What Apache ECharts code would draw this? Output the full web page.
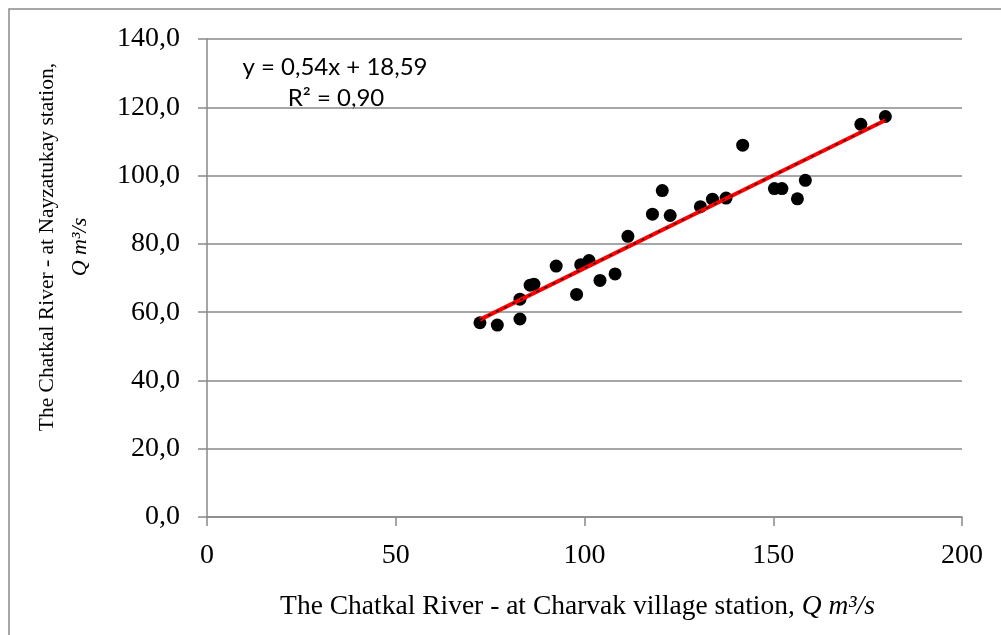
<!DOCTYPE html>
<html>
<head>
<meta charset="utf-8">
<script src="https://cdn.jsdelivr.net/npm/echarts@6/dist/echarts.min.js"></script>
<style>
html,body{margin:0;padding:0;background:#fff;}
#c{width:1001px;height:635px;}
</style>
</head>
<body>
<div id="c"></div>
<script>
// Discharge at Charvak village station (x) and Nayzatukay station (y), m3/s
const charvakQ = [72.3, 76.9, 82.9, 82.9, 85.6, 86.6, 92.5, 97.9, 99.0, 101.2, 104.1, 108.1, 111.5, 118.0, 120.6, 122.7, 130.7, 133.9, 137.5, 141.9, 150.3, 152.3, 156.4, 158.5, 173.2, 179.7];
const nayzatukayQ = [56.9, 56.2, 58.0, 63.8, 67.9, 68.2, 73.5, 65.2, 73.9, 75.1, 69.3, 71.2, 82.2, 88.7, 95.6, 88.3, 90.9, 93.1, 93.4, 108.9, 96.2, 96.2, 93.2, 98.6, 115.0, 117.3];
// Linear trendline end points
const trendX = [72.3, 179.7];
const trendY = [57.8, 116.2];
const equationText = 'y = 0,54x + 18,59';
const r2Text = 'R² = 0,90';
const xTitle = 'The Chatkal River - at Charvak village station, ';
const xTitleUnit = 'Q m³/s';
const yTitle = 'The Chatkal River - at Nayzatukay station,';
const yTitleUnit = 'Q m³/s';

const points = charvakQ.map((x, i) => [x, nayzatukayQ[i]]);
const trend = trendX.map((x, i) => [x, trendY[i]]);

const chart = echarts.init(document.getElementById('c'), null, {renderer: 'canvas'});
const serif = '"Liberation Serif", "Times New Roman", serif';
const gray = '#898989';

chart.setOption({
  animation: false,
  backgroundColor: '#fff',
  grid: {left: 207, right: 39, top: 39, bottom: 118, containLabel: false},
  xAxis: {
    type: 'value', min: 0, max: 200, interval: 50,
    axisLine: {show: true, lineStyle: {color: gray, width: 1.5}},
    axisTick: {show: true, length: 9, lineStyle: {color: gray, width: 1.5}},
    axisLabel: {color: '#000', fontFamily: serif, fontSize: 28, margin: 25},
    splitLine: {show: false},
    name: '{n|' + xTitle + '}{i|' + xTitleUnit + '}',
    nameLocation: 'middle', nameGap: 76,
    nameTextStyle: {
      padding: [0, 14, 0, 0],
      rich: {
        n: {fontFamily: serif, fontSize: 27.5, color: '#000'},
        i: {fontFamily: serif, fontSize: 27.5, fontStyle: 'italic', color: '#000'}
      }
    }
  },
  yAxis: {
    type: 'value', min: 0, max: 140, interval: 20,
    axisLine: {show: true, lineStyle: {color: gray, width: 1.5}},
    axisTick: {show: true, length: 9, lineStyle: {color: gray, width: 1.5}},
    axisLabel: {color: '#000', fontFamily: serif, fontSize: 28, margin: 27,
      formatter: v => v.toFixed(1).replace('.', ',')},
    splitLine: {show: true, lineStyle: {color: gray, width: 1.5}}
  },
  graphic: [
    {type: 'rect', shape: {x: 9, y: 9, width: 1000, height: 640},
     style: {fill: 'none', stroke: gray, lineWidth: 1.5}, silent: true},
    {type: 'text', x: 47, y: 247, rotation: Math.PI / 2, silent: true,
     style: {text: yTitle, font: '21.5px ' + serif, fill: '#000', align: 'center', verticalAlign: 'middle'}},
    {type: 'text', x: 80, y: 247, rotation: Math.PI / 2, silent: true,
     style: {text: yTitleUnit, font: 'italic 22px ' + serif, fill: '#000', align: 'center', verticalAlign: 'middle'}},
    {type: 'text', x: 335, y: 67, silent: true,
     style: {text: equationText, font: '24px Lato, "Open Sans", sans-serif', fill: '#000', align: 'center', verticalAlign: 'middle'}},
    {type: 'text', x: 336, y: 98, silent: true,
     style: {text: r2Text, font: '24px Lato, "Open Sans", sans-serif', fill: '#000', align: 'center', verticalAlign: 'middle'}}
  ],
  series: [
    {type: 'scatter', data: points, symbol: 'circle', symbolSize: 13,
     itemStyle: {color: '#000', opacity: 1}, z: 2},
    {type: 'line', data: trend, symbol: 'none', z: 3,
     lineStyle: {color: '#ff0000', width: 4}},
    {type: 'line', data: trend, symbol: 'none', z: 4,
     lineStyle: {color: '#000', width: 1.2, type: [3, 6]}}
  ]
});
</script>
</body>
</html>
